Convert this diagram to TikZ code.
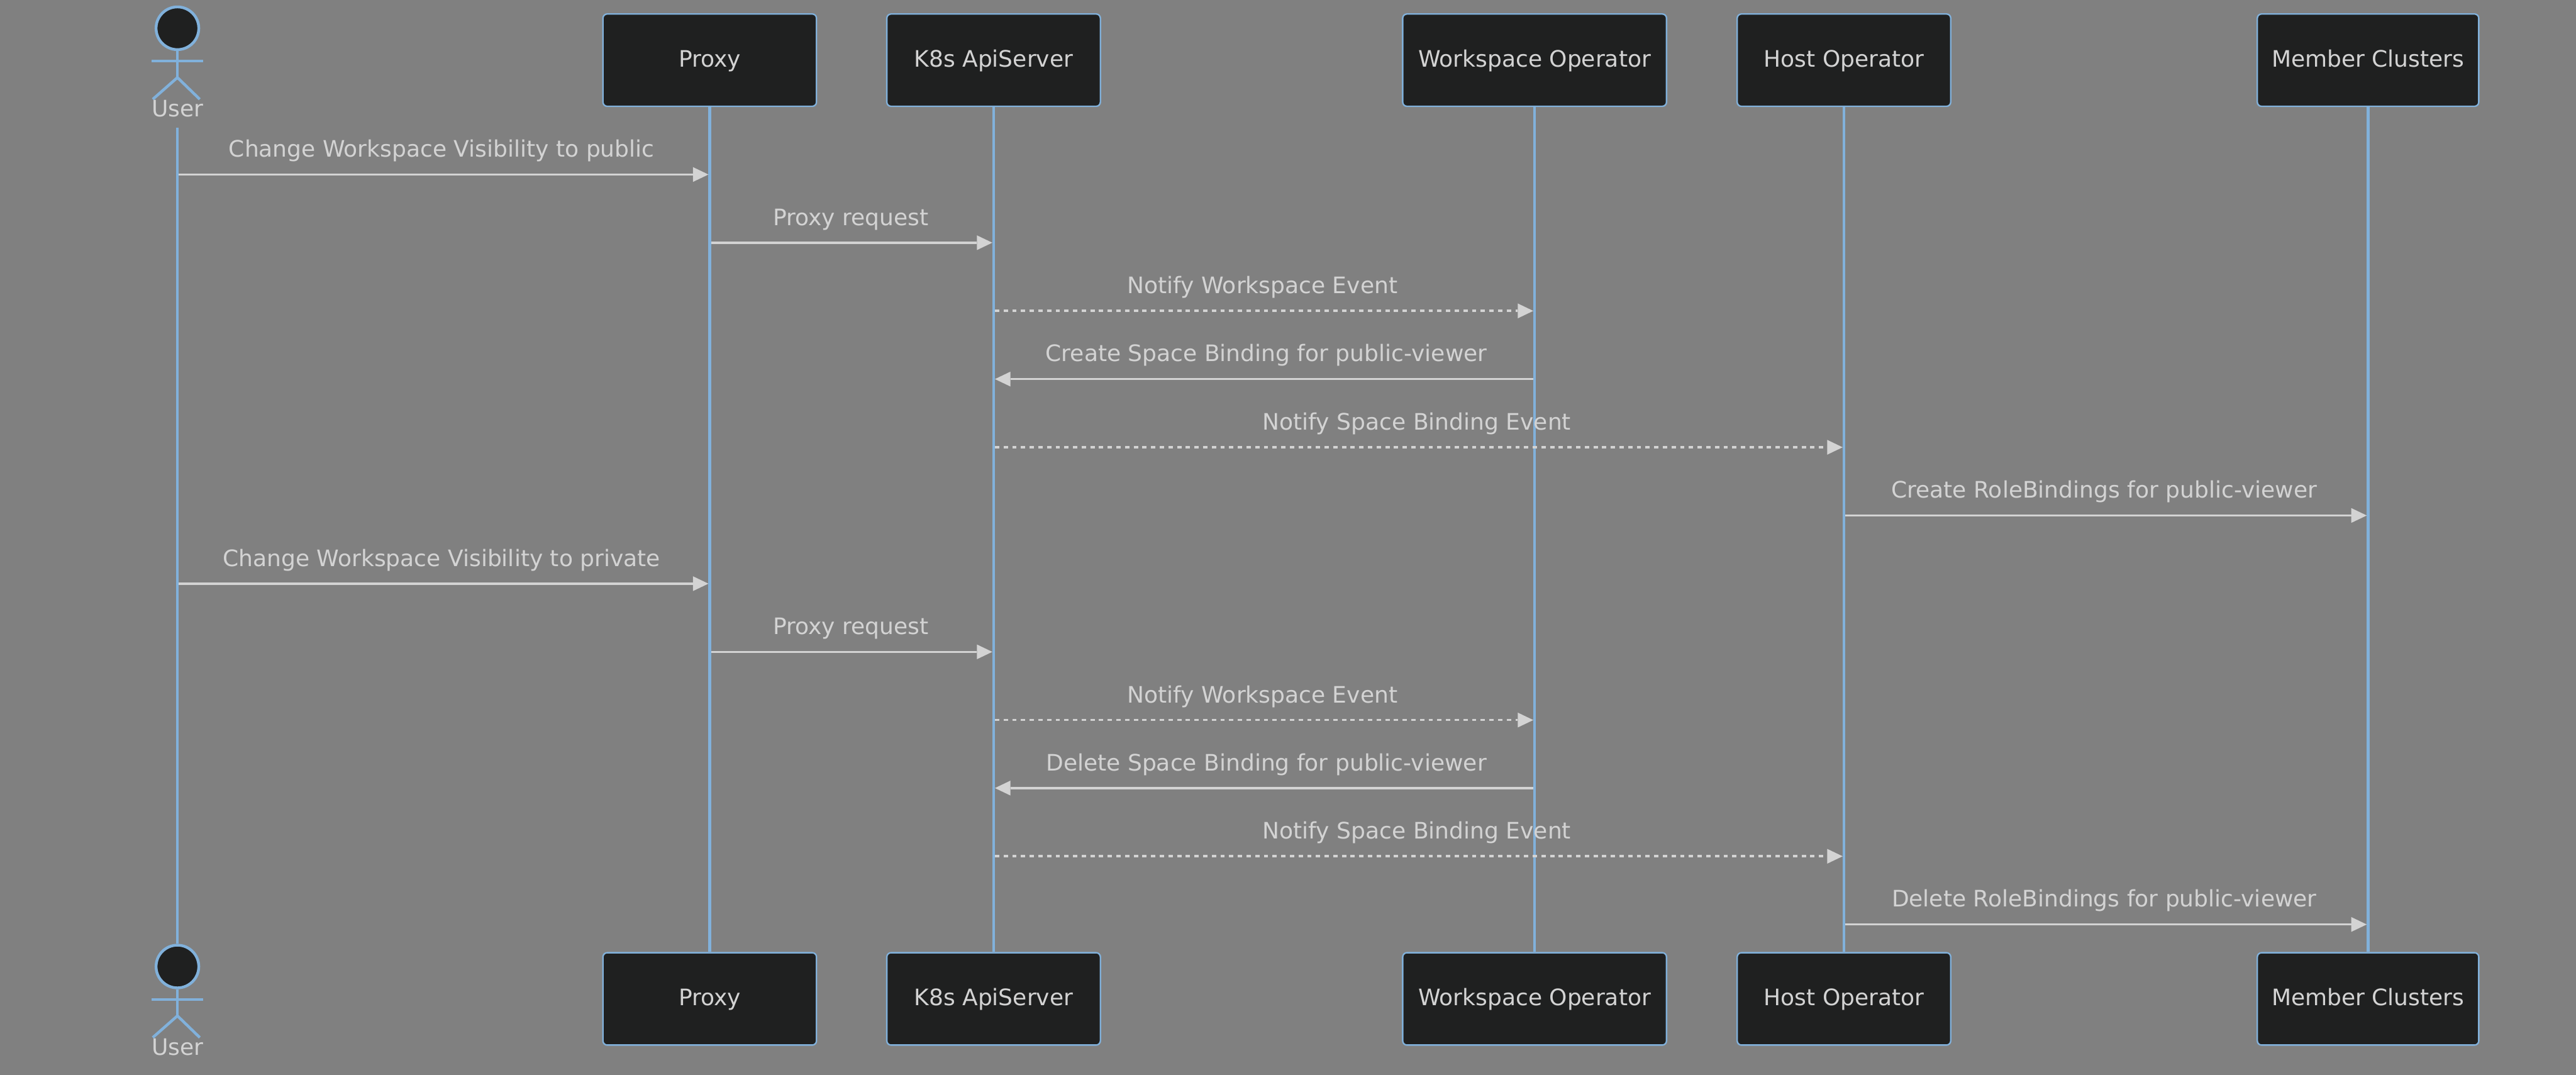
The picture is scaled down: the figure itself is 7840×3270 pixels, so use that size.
\documentclass[tikz,border=0pt]{standalone}
\usepackage{fontspec}
\setmainfont{DejaVu Sans}
\usetikzlibrary{arrows.meta}
\definecolor{bggray}{HTML}{808080}
\definecolor{boxfill}{HTML}{1F2020}
\definecolor{lifeblue}{HTML}{81B1DB}
\definecolor{lgrey}{HTML}{D3D3D3}
\tikzset{
  txt/.style={text=lgrey,font=\fontsize{6.9}{8.3}\selectfont,inner sep=0pt},
  actorbox/.style={txt,draw=lifeblue,fill=boxfill,line width=0.45pt,rounded corners=1.3pt,
    minimum height=28.1pt,text height=4.0pt,text depth=0pt},
  life/.style={draw=lifeblue,line width=0.9pt},
  limb/.style={draw=lifeblue,line width=0.85pt},
  headcirc/.style={circle,draw=lifeblue,fill=boxfill,line width=0.85pt,minimum size=13pt,inner sep=0pt},
  msg/.style={draw=lgrey,line width=0.68pt,shorten >=0.4pt,shorten <=0.4pt,
    -{Triangle[length=4.7pt,width=4.5pt,line width=0pt,fill=lgrey]}},
  dashmsg/.style={msg,dash pattern=on 1.32pt off 1.32pt},
  lab/.style={txt,anchor=base},
}
\begin{document}
\begin{tikzpicture}[x=0.1pt,y=-0.1pt]
\useasboundingbox (0,0) rectangle (7840,3270);
\fill[bggray] (-20,-20) rectangle (7860,3300);
% participants
\node[actorbox,minimum width=65pt]   (proxyT)  at (2160,183) {Proxy};
\node[actorbox,minimum width=65pt]   (apiT)    at (3024,183) {K8s ApiServer};
\node[actorbox,minimum width=80.3pt] (wsT)     at (4670.5,183) {Workspace Operator};
\node[actorbox,minimum width=65pt]   (hostT)   at (5612,183) {Host Operator};
\node[actorbox,minimum width=67.4pt] (memT)    at (7207,183) {Member Clusters};
\node[actorbox,minimum width=65pt]   (proxyB)  at (2160,3039.5) {Proxy};
\node[actorbox,minimum width=65pt]   (apiB)    at (3024,3039.5) {K8s ApiServer};
\node[actorbox,minimum width=80.3pt] (wsB)     at (4670.5,3039.5) {Workspace Operator};
\node[actorbox,minimum width=65pt]   (hostB)   at (5612,3039.5) {Host Operator};
\node[actorbox,minimum width=67.4pt] (memB)    at (7207,3039.5) {Member Clusters};
% user actors
\node[headcirc] (userHeadT) at (540,86) {};
\coordinate (userArmLT) at (462,186);
\coordinate (userArmRT) at (618,186);
\coordinate (userHipT) at (540,236);
\coordinate (userLegLT) at (465,302);
\coordinate (userLegRT) at (608,302);
\draw[limb] (userHeadT.south) -- (userHipT);
\draw[limb] (userArmLT) -- (userArmRT);
\draw[limb] (userLegLT) -- (userHipT) -- (userLegRT);
\node[lab] (userLabelT) at (540,355) {User};
\node[headcirc] (userHeadB) at (540,2941) {};
\coordinate (userArmLB) at (462,3041);
\coordinate (userArmRB) at (618,3041);
\coordinate (userHipB) at (540,3091);
\coordinate (userLegLB) at (465,3157);
\coordinate (userLegRB) at (608,3157);
\draw[limb] (userHeadB.south) -- (userHipB);
\draw[limb] (userArmLB) -- (userArmRB);
\draw[limb] (userLegLB) -- (userHipB) -- (userLegRB);
\node[lab] (userLabelB) at (540,3210) {User};
% lifelines
\coordinate (userTop) at (540,389);
\draw[life] (userTop) -- (userHeadB.north);
\draw[life] (proxyT.south) -- (proxyB.north);
\draw[life] (apiT.south) -- (apiB.north);
\draw[life] (wsT.south) -- (wsB.north);
\draw[life] (hostT.south) -- (hostB.north);
\draw[life] (memT.south) -- (memB.north);
% message rows
\coordinate (m1) at (0,531);
\coordinate (m2) at (0,738.5);
\coordinate (m3) at (0,946);
\coordinate (m4) at (0,1153.5);
\coordinate (m5) at (0,1361);
\coordinate (m6) at (0,1568.5);
\coordinate (m7) at (0,1776);
\coordinate (m8) at (0,1983.5);
\coordinate (m9) at (0,2191);
\coordinate (m10) at (0,2398);
\coordinate (m11) at (0,2605.5);
\coordinate (m12) at (0,2813);
% messages
\draw[msg] (userTop |- m1) -- (proxyT |- m1);
\draw[msg] (proxyT |- m2) -- (apiT |- m2);
\draw[dashmsg] (apiT |- m3) -- (wsT |- m3);
\draw[msg] (wsT |- m4) -- (apiT |- m4);
\draw[dashmsg] (apiT |- m5) -- (hostT |- m5);
\draw[msg] (hostT |- m6) -- (memT |- m6);
\draw[msg] (userTop |- m7) -- (proxyT |- m7);
\draw[msg] (proxyT |- m8) -- (apiT |- m8);
\draw[dashmsg] (apiT |- m9) -- (wsT |- m9);
\draw[msg] (wsT |- m10) -- (apiT |- m10);
\draw[dashmsg] (apiT |- m11) -- (hostT |- m11);
\draw[msg] (hostT |- m12) -- (memT |- m12);
% labels
\node[lab] (l1) at (1344,478) {Change Workspace Visibility to public};
\node[lab] (l2) at (2589,685.5) {Proxy request};
\node[lab] (l3) at (3842,893) {Notify Workspace Event};
\node[lab] (l4) at (3854,1100.5) {Create Space Binding for public-viewer};
\node[lab] (l5) at (4312,1308) {Notify Space Binding Event};
\node[lab] (l6) at (6404,1515.5) {Create RoleBindings for public-viewer};
\node[lab] (l7) at (1344,1723) {Change Workspace Visibility to private};
\node[lab] (l8) at (2589,1930.5) {Proxy request};
\node[lab] (l9) at (3842,2138) {Notify Workspace Event};
\node[lab] (l10) at (3854,2345) {Delete Space Binding for public-viewer};
\node[lab] (l11) at (4312,2552.5) {Notify Space Binding Event};
\node[lab] (l12) at (6404,2760) {Delete RoleBindings for public-viewer};
\end{tikzpicture}
\end{document}
